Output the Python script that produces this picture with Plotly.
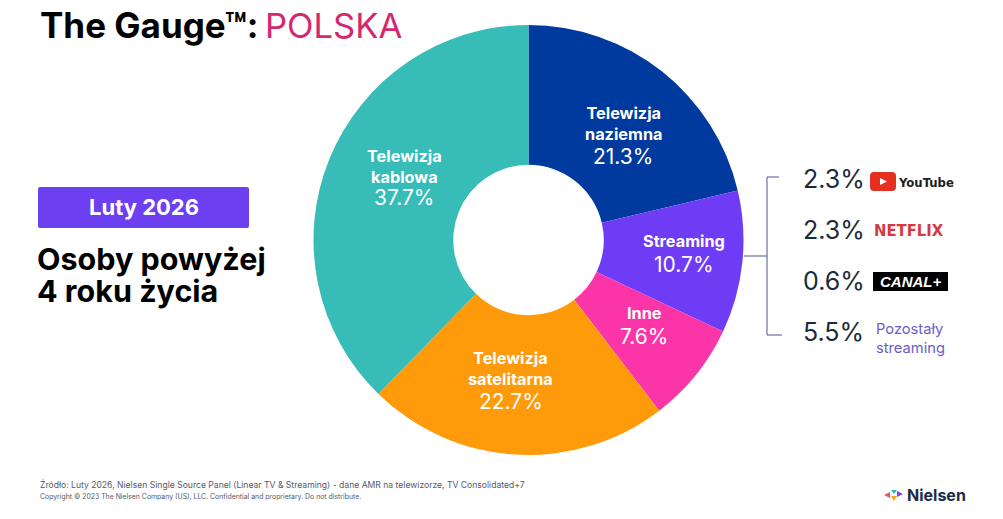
import plotly.graph_objects as go

W, H = 1003, 519

# dane z wykresu
kategorie = ["Telewizja<br>naziemna", "Streaming", "Inne", "Telewizja<br>satelitarna", "Telewizja<br>kablowa"]
wartosci = [21.3, 10.7, 7.6, 22.7, 37.7]
kolory = ["#003a9e", "#6f3cf6", "#fb35a8", "#ff9a0a", "#37bcb8"]

streaming_wartosci = [2.3, 2.3, 0.6, 5.5]

# pozycje etykiet w pikselach: x, nazwa y, procent y
etykiety_xy = [(623, 124, 156), (684, 241, 264), (644, 313, 336), (511, 368.5, 401), (404, 166, 198)]
streaming_y = [179, 230, 281, 332]


def px(x):
    return x / W


def py(y):
    return 1 - y / H


def napis(fig, x, y, tekst, size, color="#000000", anchor="left", font="Inter"):
    fig.add_annotation(x=px(x), y=py(y), xref="paper", yref="paper", text=tekst, showarrow=False,
                       xanchor=anchor, yanchor="middle", align=anchor,
                       font=dict(family=font, size=size, color=color), borderpad=0, borderwidth=0)


def prostokat(fig, x0, y0, x1, y1, color):
    fig.add_shape(type="rect", xref="paper", yref="paper", x0=px(x0), x1=px(x1), y0=py(y0), y1=py(y1),
                  fillcolor=color, line_width=0, layer="above")


def linia(fig, x0, y0, x1, y1, color="#6a6fa0"):
    fig.add_shape(type="line", xref="paper", yref="paper", x0=px(x0), x1=px(x1), y0=py(y0), y1=py(y1),
                  line=dict(color=color, width=1.2))


def trojkat(fig, pts, color):
    sciezka = "M " + " L ".join(f"{px(x):.5f} {py(y):.5f}" for x, y in pts) + " Z"
    fig.add_shape(type="path", xref="paper", yref="paper", path=sciezka, fillcolor=color, line_width=0, layer="above")


def zaokraglony(fig, x0, y0, x1, y1, r, color):
    p = lambda x, y: f"{px(x):.5f} {py(y):.5f}"
    sciezka = (f"M {p(x0 + r, y0)} L {p(x1 - r, y0)} Q {p(x1, y0)} {p(x1, y0 + r)} L {p(x1, y1 - r)} "
               f"Q {p(x1, y1)} {p(x1 - r, y1)} L {p(x0 + r, y1)} Q {p(x0, y1)} {p(x0, y1 - r)} "
               f"L {p(x0, y0 + r)} Q {p(x0, y0)} {p(x0 + r, y0)} Z")
    fig.add_shape(type="path", xref="paper", yref="paper", path=sciezka, fillcolor=color, line_width=0, layer="above")


fig = go.Figure(go.Pie(values=wartosci, labels=kategorie, sort=False, direction="clockwise", rotation=0,
                       hole=0.35, marker=dict(colors=kolory, line=dict(width=0)), textinfo="none",
                       showlegend=False, hoverinfo="skip",
                       domain=dict(x=[px(313.5), px(743.5)], y=[py(455), py(25)])))

# tytul
napis(fig, 40, 25, "<b>The Gauge™:</b>", 35)
napis(fig, 265, 25, "POLSKA", 34.6, "#d4286e")

# lewy panel
zaokraglony(fig, 38, 187, 249, 228, 2, "#6c3ff0")
napis(fig, 143.5, 207, "<b>Luty 2026</b>", 22, "#ffffff", "center")
napis(fig, 37, 258, "<b>Osoby powyżej</b>", 30.5)
napis(fig, 37, 290, "<b>4 roku życia</b>", 30.5)

# etykiety wycinkow
for kat, val, (x, y1, y2) in zip(kategorie, wartosci, etykiety_xy):
    napis(fig, x, y1, f"<b>{kat}</b>", 16.3, "#ffffff", "center")
    napis(fig, x, y2, f"{val}%", 21, "#ffffff", "center")

# klamra
linia(fig, 744, 256, 767, 256)
linia(fig, 767, 177, 767, 335)
linia(fig, 767, 177, 779, 177)
linia(fig, 767, 335, 782, 335)

for val, y in zip(streaming_wartosci, streaming_y):
    napis(fig, 803, y, f"{val}%", 25, "#1c2b3a")

# YouTube
zaokraglony(fig, 870, 172, 896, 191, 4, "#e5301f")
trojkat(fig, [(880, 178), (880, 185), (887, 181.5)], "#ffffff")
napis(fig, 898, 182, "<b>YouTube</b>", 13, "#1e1e1e", font="DejaVu Sans Condensed")
# Netflix
napis(fig, 874, 230, "<b>NETFLIX</b>", 16.5, "#d33a42", font="DejaVu Sans Condensed")
# Canal+
prostokat(fig, 873, 272, 948, 291, "#000000")
napis(fig, 910.5, 281.5, "<b><i>CANAL+</i></b>", 15, "#ffffff", "center", font="Liberation Sans")
# pozostaly
napis(fig, 876, 338, "Pozostały<br>streaming", 14.7, "#6d5cc9")

# stopka
napis(fig, 40, 484, "Źródło: Luty 2026, Nielsen Single Source Panel (Linear TV & Streaming) - dane AMR na telewizorze, TV Consolidated+7", 8.6, "#555a66")
napis(fig, 40, 496, "Copyright © 2023 The Nielsen Company (US), LLC. Confidential and proprietary. Do not distribute.", 6.9, "#555a66")

# logo
trojkat(fig, [(884, 495), (890, 492), (890, 498)], "#e8566a")
trojkat(fig, [(891, 490), (897, 490), (894, 494)], "#35b5b0")
trojkat(fig, [(891, 496), (897, 496), (894, 501)], "#f5a623")
trojkat(fig, [(897, 491), (903, 494), (897, 497)], "#7a3ff2")
napis(fig, 907, 495, "<b>Nielsen</b>", 16, "#1c2b4a")

fig.update_layout(width=W, height=H, margin=dict(l=0, r=0, t=0, b=0), paper_bgcolor="#ffffff",
                  plot_bgcolor="#ffffff")

fig.write_html("out.html", config=dict(displayModeBar=False),
               post_script="document.body.style.margin='0';document.body.style.overflow='hidden';")
